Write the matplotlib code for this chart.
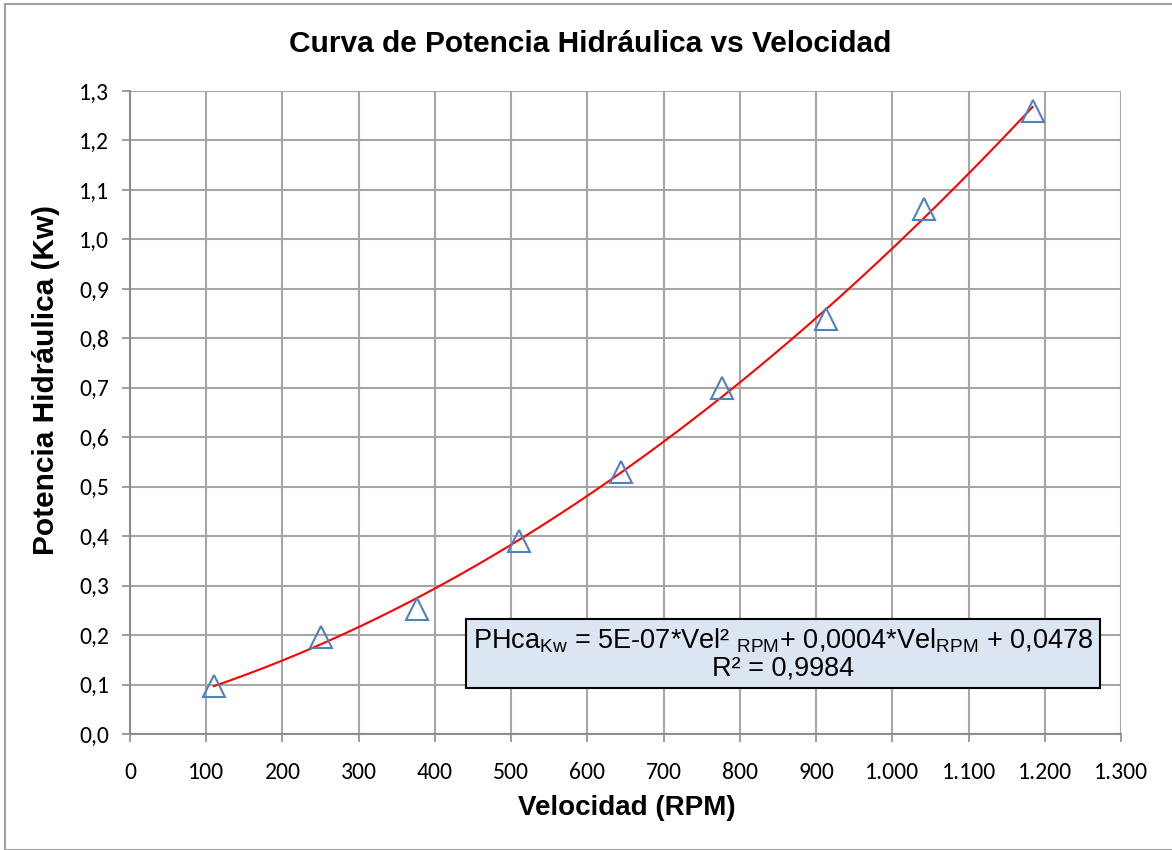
import matplotlib.pyplot as plt
import numpy as np
from matplotlib.ticker import FuncFormatter, MultipleLocator
from matplotlib.patches import Rectangle

# Datos
velocidad = [110, 250, 377, 510, 644, 777, 913, 1041, 1184]
potencia = [0.097, 0.196, 0.253, 0.390, 0.530, 0.700, 0.839, 1.061, 1.259]

titulo = "Curva de Potencia Hidráulica vs Velocidad"
xlabel = "Velocidad (RPM)"
ylabel = "Potencia Hidráulica (Kw)"
ecuacion = (r"PHca$_{\mathrm{Kw}}$ = 5E-07*Vel² $_{\mathrm{RPM}}$+ 0,0004*Vel$_{\mathrm{RPM}}$ + 0,0478"
            "\n" r"R² = 0,9984")

plt.rcParams['mathtext.fontset'] = 'custom'
plt.rcParams['mathtext.rm'] = 'Liberation Sans'

fig = plt.figure(figsize=(11.72, 8.5), dpi=100)
ax = fig.add_axes([130 / 1172, 1 - 734 / 850, 991 / 1172, 643 / 850])

# borde exterior del grafico
fig.patches.append(Rectangle((5 / 1172, 0.0), 1.2, 1 - 4 / 850, transform=fig.transFigure,
                             fill=False, edgecolor='#a0a0a0', lw=1.5))

# linea de tendencia polinomica (orden 2)
coef = np.polyfit(velocidad, potencia, 2)
xs = np.linspace(min(velocidad), max(velocidad), 200)
ax.plot(xs, np.polyval(coef, xs), color='red', lw=1.5, zorder=3)

ax.plot(velocidad, potencia, linestyle='none', marker='^', ms=16, mfc='none',
        mec='#4f81bd', mew=1.5, zorder=4)

ax.set_xlim(0, 1300)
ax.set_ylim(0, 1.3)
ax.xaxis.set_major_locator(MultipleLocator(100))
ax.yaxis.set_major_locator(MultipleLocator(0.1))
ax.xaxis.set_major_formatter(FuncFormatter(lambda v, p: f"{int(round(v)):,}".replace(",", ".")))
ax.yaxis.set_major_formatter(FuncFormatter(lambda v, p: f"{v:.1f}".replace(".", ",")))

ax.grid(True, color='#a6a6a6', lw=1.5)
ax.set_axisbelow(True)
for s in ['top', 'right']:
    ax.spines[s].set_visible(False)
for s in ['left', 'bottom']:
    ax.spines[s].set_color('#8c8c8c')
    ax.spines[s].set_linewidth(1.5)
ax.tick_params(axis='x', direction='out', length=6, width=1.2, color='#8c8c8c', pad=14)
ax.tick_params(axis='y', direction='out', length=6, width=1.2, color='#8c8c8c', pad=9)
for lab in ax.get_xticklabels() + ax.get_yticklabels():
    lab.set_fontfamily(['Carlito', 'Lato', 'DejaVu Sans'])
    lab.set_fontsize(17)

fig.text(590 / 1172, 1 - 44 / 850, titulo, ha='center', va='center', fontsize=21.5,
         fontweight='bold', family=['Liberation Sans Narrow', 'Liberation Sans'])
fig.text(627 / 1172, 1 - 808 / 850, xlabel, ha='center', va='center', fontsize=20,
         fontweight='bold', family='Liberation Sans')
fig.text(46 / 1172, 1 - 380 / 850, ylabel, ha='center', va='center', rotation=90, fontsize=21.5,
         fontweight='bold', family='Liberation Sans')

fig.text(783 / 1172, 1 - 654 / 850, ecuacion, ha='center', va='center', fontsize=19.5,
         family='Liberation Sans', linespacing=1.0,
         bbox=dict(boxstyle='square,pad=0.25', fc='#dce6f2', ec='black', lw=1.5))

fig.savefig('out.png', dpi=100)
